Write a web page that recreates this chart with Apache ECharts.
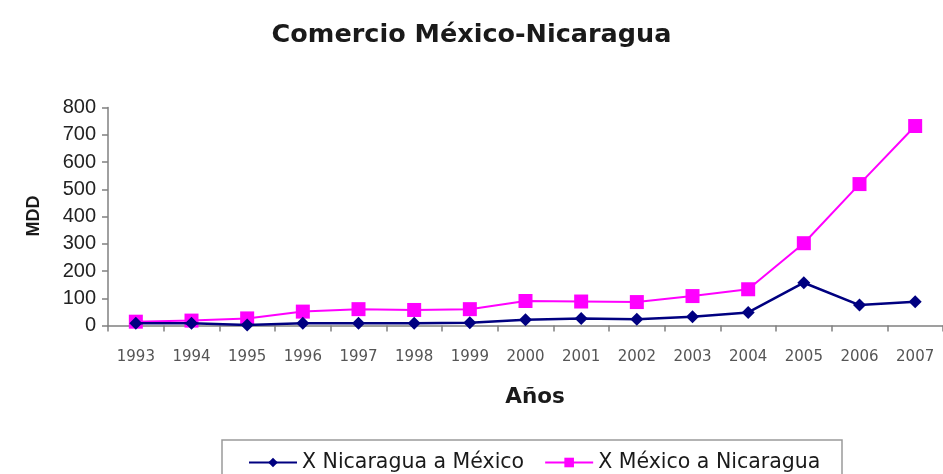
<!DOCTYPE html>
<html>
<head>
<meta charset="utf-8">
<script src="https://cdn.jsdelivr.net/npm/echarts@6/dist/echarts.min.js"></script>
<style>
  html, body { margin: 0; padding: 0; background: #fff; }
  #chart { width: 943px; height: 474px; }
</style>
</head>
<body>
<div id="chart"></div>
<script>
// Años del periodo
const years = ['1993', '1994', '1995', '1996', '1997', '1998', '1999', '2000',
               '2001', '2002', '2003', '2004', '2005', '2006', '2007'];

// Exportaciones de Nicaragua a México (millones de dólares)
const nicToMex = [8, 8, 2, 8, 8, 8, 10, 21, 26, 23, 32, 48, 157, 75, 87];

// Exportaciones de México a Nicaragua (millones de dólares)
const mexToNic = [14, 18, 26, 51, 60, 57, 60, 90, 88, 86, 108, 133, 302, 519, 732];

// Marcas del eje vertical
const yTicks = [0, 100, 200, 300, 400, 500, 600, 700, 800];

const wide = '"DejaVu Sans", Verdana, sans-serif';
const narrow = '"Liberation Sans", Arial, sans-serif';

const chart = echarts.init(document.getElementById('chart'), null, { renderer: 'canvas' });

const option = {
  animation: false,
  backgroundColor: '#ffffff',
  textStyle: { fontFamily: narrow },
  title: {
    text: 'Comercio México-Nicaragua',
    left: 'center',
    top: 17,
    textStyle: { fontSize: 25.5, fontWeight: 'bold', color: '#1a1a1a', fontFamily: wide }
  },
  grid: { left: 108, top: 107.5, width: 838, height: 218, containLabel: false },
  legend: {
    left: 243,
    top: 447,
    itemWidth: 48,
    itemHeight: 12,
    itemGap: 20,
    textStyle: { fontSize: 20.5, color: '#1a1a1a', fontFamily: wide },
    data: ['X Nicaragua a México', 'X México a Nicaragua']
  },
  graphic: [{
    type: 'rect',
    silent: true,
    shape: { x: 222, y: 440, width: 620, height: 60 },
    style: { fill: 'none', stroke: '#9a9a9a', lineWidth: 1.5 }
  }, {
    type: 'text',
    x: 535,
    y: 397,
    style: { text: 'Años', font: 'bold 21.5px "DejaVu Sans", Verdana, sans-serif', fill: '#1a1a1a', align: 'center', verticalAlign: 'middle' }
  }, {
    type: 'text',
    x: 34,
    y: 216,
    rotation: Math.PI / 2,
    style: { text: 'MDD', font: 'bold 18px "Liberation Sans", Arial, sans-serif', fill: '#1a1a1a', align: 'center', verticalAlign: 'middle' }
  }],
  xAxis: {
    type: 'category',
    data: years,
    boundaryGap: true,
    axisLine: { lineStyle: { color: '#808080', width: 1.5 } },
    axisTick: { show: true, length: 6, inside: false, lineStyle: { color: '#808080', width: 1.5 } },
    axisLabel: { fontSize: 15, color: '#555', margin: 24, fontFamily: wide }
  },
  yAxis: {
    type: 'value',
    min: yTicks[0],
    max: yTicks[yTicks.length - 1],
    interval: 100,
    splitLine: { show: false },
    axisLine: { show: true, lineStyle: { color: '#808080', width: 1.5 } },
    axisTick: { show: true, length: 6, lineStyle: { color: '#808080', width: 1.5 } },
    axisLabel: { fontSize: 20, color: '#222', margin: 12 }
  },
  series: [{
    name: 'X Nicaragua a México',
    type: 'line',
    data: nicToMex,
    symbol: 'diamond',
    symbolSize: 13,
    lineStyle: { color: '#000080', width: 2.5 },
    itemStyle: { color: '#000080' },
    z: 3
  }, {
    name: 'X México a Nicaragua',
    type: 'line',
    data: mexToNic,
    symbol: 'rect',
    symbolSize: 14,
    lineStyle: { color: '#ff00ff', width: 2 },
    itemStyle: { color: '#ff00ff' },
    z: 2
  }]
};

chart.setOption(option);
</script>
</body>
</html>
